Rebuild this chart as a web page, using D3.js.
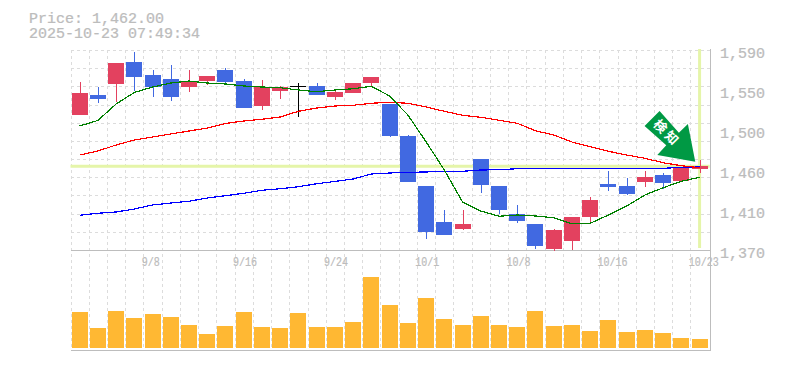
<!DOCTYPE html>
<html><head><meta charset="utf-8">
<style>html,body{margin:0;padding:0;background:#fff}svg{display:block}</style>
<script src="https://cdn.jsdelivr.net/npm/d3@7"></script></head><body>
<div id="chart"></div>
<script>
const W=785,H=370;
const opens=[1518.5,1540.5,1552.6,1576.8,1562.5,1558.1,1549.3,1555.9,1568,1555.9,1528.4,1544.9,1550,1550.4,1538.3,1542.7,1553.7,1530.6,1495.4,1440.4,1400.8,1393.1,1470.1,1440.4,1409.6,1398.6,1371.1,1379.9,1406.3,1442.6,1440.4,1444.8,1452.5,1445.9,1459.1];
const closes=[1542.7,1536.1,1575.7,1560.3,1549.3,1538.3,1555.9,1561.4,1554.8,1526.2,1549,1549.3,1550,1540.5,1543.8,1553.7,1560.3,1495.4,1444.8,1389.8,1386.5,1398.6,1441.5,1414,1401.9,1374.4,1392,1406.3,1425,1439.3,1431.6,1450.3,1443.7,1461.3,1462];
const highs=[1554.8,1549.3,1575.7,1587.8,1568,1573.5,1568,1561.4,1570.2,1558.1,1557,1550.4,1553.7,1553.7,1547.1,1553.7,1560.3,1530.6,1496.5,1440.4,1414,1414,1470.1,1440.4,1419.5,1398.6,1393.1,1406.3,1428.3,1456.9,1449.2,1456.9,1454.7,1461.3,1469];
const lows=[1518.5,1531.7,1532.8,1544.9,1538.3,1533.9,1543.8,1551.5,1551.5,1526.2,1524,1536.1,1516.3,1540.5,1535,1542.7,1550.4,1494.3,1444.8,1382.1,1386.5,1392,1432.7,1409.6,1399.7,1371.1,1368.9,1370,1399.7,1434.9,1430.5,1439.3,1437.1,1445.9,1454.7];
const volumes=[36,20,37,30,34,31,23,14,22,36,21,20,35,21,21,26,71,43,25,50,29,23,32,23,21,37,22,23,17,28,16,18,15,10,9];
const maShort=[1506.4,1512.5,1530.6,1543.3,1549.3,1553.7,1555.9,1553.7,1552.6,1550.4,1549.3,1548.5,1546,1544.1,1546,1547.4,1550.1,1539.4,1518.5,1489.1,1458,1422.8,1412.9,1407.1,1408.5,1407.4,1405.5,1398.9,1399.4,1408.5,1418.4,1430.5,1438.5,1445.6,1450];
const maMid=[1474.5,1478.9,1485.5,1491,1494.3,1497.6,1500.9,1504.2,1509.2,1511.9,1513.8,1516.3,1522.6,1526.2,1528.4,1529.2,1531.4,1532.5,1531.4,1527.3,1522.6,1518.2,1516,1512.7,1509.4,1501.2,1496.5,1488.8,1483.6,1478.6,1474.5,1470.9,1466,1462.7,1460.5];
const maLong=[1408.2,1410.4,1411.8,1415.1,1419.5,1421.7,1423.6,1427.2,1429.7,1432.4,1435.7,1437.4,1439.6,1442.9,1445.4,1448.1,1453.6,1454.7,1455.5,1455.8,1456.6,1456.6,1458,1458.3,1459.4,1459.7,1459.7,1459.7,1459.7,1459.9,1459.5,1459.8,1459.9,1460.8,1461.3];
const priceTicks=[1370,1414,1458,1502,1546,1590];
const priceTickLabels=["1,370","1,410","1,460","1,500","1,550","1,590"];
const dateIdx=[4,9,14,19,24,29,34];
const dateLabels=["9/8","9/16","9/24","10/1","10/8","10/16","10/23"];
const titleLines=["Price: 1,462.00","2025-10-23 07:49:34"];
const lastPrice=1462;
const signalText="検知";

const UP="#e3415f",DOWN="#4169e1",DOJI="#000",VOL="#ffb833",GRID="#dcdcdc",AXIS="#bdbdbd",TXT="#bcbcbc",HL="#e5f5a9";
const L=70.5,R=708.7,T=50,B=250,VB=348,AX=350;
const n=closes.length;
const svg=d3.select("#chart").append("svg").attr("width",W).attr("height",H);
const x=d3.scaleBand().domain(d3.range(n)).range([L,R]).paddingInner(.1226).paddingOuter(.0613);
const cx=i=>x(i)+x.bandwidth()/2;
const y=d3.scaleLinear().domain([1370,1590]).range([B,T]);
const yv=d3.scaleLinear().domain([0,100]).range([VB,VB-100]);
const gridY=d3.range(1370,1591,20);

// grid
const g=svg.append("g").attr("stroke",GRID).attr("stroke-dasharray","3,3").attr("shape-rendering","crispEdges");
g.selectAll("line.h").data(gridY).join("line").attr("class","h").attr("x1",L).attr("x2",R+1).attr("y1",d=>Math.round(y(d))+.5).attr("y2",d=>Math.round(y(d))+.5);
g.selectAll("line.v").data(d3.range(n)).join("line").attr("class","v").attr("x1",i=>Math.round(cx(i)-x.step()/2)+.5).attr("x2",i=>Math.round(cx(i)-x.step()/2)+.5).attr("y1",T).attr("y2",AX);

// highlight
svg.append("line").attr("x1",L).attr("x2",R+1).attr("y1",y(lastPrice)).attr("y2",y(lastPrice)).attr("stroke",HL).attr("stroke-width",3);
svg.append("line").attr("x1",cx(n-1)).attr("x2",cx(n-1)).attr("y1",T-1).attr("y2",B-2).attr("stroke",HL).attr("stroke-width",3);

// axes frame
const ax=svg.append("g").attr("stroke",AXIS).attr("shape-rendering","crispEdges");
ax.append("line").attr("x1",L).attr("x2",R+2).attr("y1",B+.5).attr("y2",B+.5);
ax.append("line").attr("x1",L).attr("x2",R+2).attr("y1",AX+.5).attr("y2",AX+.5).attr("stroke-width",1);
ax.append("line").attr("x1",R+1.5).attr("x2",R+1.5).attr("y1",T-1).attr("y2",AX+1);

// volume
svg.append("g").attr("shape-rendering","crispEdges").selectAll("rect").data(volumes).join("rect")
 .attr("x",(d,i)=>x(i)).attr("width",x.bandwidth()).attr("y",d=>yv(d)).attr("height",d=>yv(0)-yv(d)).attr("fill",VOL);

// candles
const col=i=>closes[i]>opens[i]?UP:closes[i]<opens[i]?DOWN:DOJI;
const cg=svg.append("g").attr("shape-rendering","crispEdges");
cg.selectAll("line").data(d3.range(n)).join("line").attr("x1",i=>Math.round(cx(i))+.5).attr("x2",i=>Math.round(cx(i))+.5)
 .attr("y1",i=>y(highs[i])).attr("y2",i=>y(lows[i])).attr("stroke",col);
cg.selectAll("rect").data(d3.range(n)).join("rect").attr("x",i=>x(i)).attr("width",x.bandwidth())
 .attr("y",i=>y(Math.max(opens[i],closes[i]))).attr("height",i=>Math.max(1,Math.abs(y(opens[i])-y(closes[i])))).attr("fill",col);

// moving averages
const line=d3.line().x((d,i)=>cx(i)).y(d=>y(d));
[[maLong,"#0000ff"],[maMid,"#ff0000"],[maShort,"#008000"]].forEach(([d,c])=>{
 svg.append("path").attr("d",line(d)).attr("fill","none").attr("stroke",c).attr("stroke-width",1.2).attr("shape-rendering","crispEdges");
});

// signal arrow (local coords, tip at origin, anchored on the last candle)
const tip=[cx(n-1)-4.3,y(lastPrice)-4.7];
const a=svg.append("g").attr("transform",`translate(${tip[0]},${tip[1]})`);
const arrowShape=[[0,0],[-7.4,-37.7],[-16.4,-29],[-35.7,-50.7],[-50.7,-35.7],[-29,-16.4],[-38,-6.7]];
a.append("path").attr("d",d3.line()(arrowShape)+"Z").attr("fill","#009944");
a.append("text").attr("transform","translate(-28.2,-28.6) rotate(45)").attr("text-anchor","middle").attr("dy","0.36em")
 .attr("font-family","'Noto Sans CJK JP'").attr("font-weight",700).attr("font-size",13).attr("letter-spacing",3).attr("fill","#fff").text(signalText);

// text
const mono="'Liberation Mono',monospace";
const addText=(sel,size,sx)=>sel.attr("font-family",mono).attr("font-size",size).attr("fill",TXT).attr("stroke",TXT).attr("stroke-width",.25);
addText(svg.append("g").selectAll("text").data(titleLines).join("text")
 .attr("transform",(d,i)=>`translate(29,${23+i*15}) scale(1.071,1)`).text(d=>d),14);
addText(svg.append("g").selectAll("text").data(priceTicks).join("text")
 .attr("transform",d=>`translate(720,${y(d)+8}) scale(1.071,1)`).text((d,i)=>priceTickLabels[i]),14);
addText(svg.append("g").selectAll("text").data(dateIdx).join("text")
 .attr("transform",i=>`translate(${cx(i)-10.8},${B+16}) scale(0.77,1)`).text((d,k)=>dateLabels[k]),13);
</script></body></html>
